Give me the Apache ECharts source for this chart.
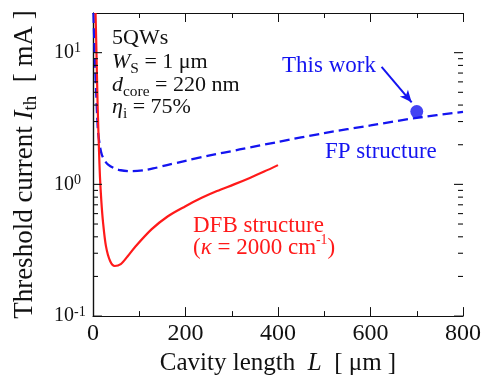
<!DOCTYPE html>
<html>
<head>
<meta charset="utf-8">
<script src="https://cdn.jsdelivr.net/npm/echarts@6/dist/echarts.min.js"></script>
<style>
  html, body { margin: 0; padding: 0; background: #fff; }
  #chart { width: 487px; height: 381px; }
</style>
</head>
<body>
<div id="chart"></div>
<script>
// FP structure (blue dashed): [cavity length um, threshold mA]
const fpCurve = [
  [1, 20], [2, 15], [3, 12], [4.5, 8], [6.5, 5.4], [9, 3.3], [11, 2.5],
  [15, 1.95], [19, 1.68], [25, 1.52], [32, 1.42], [45, 1.33], [60, 1.28],
  [84, 1.26], [110, 1.28], [130, 1.32], [160, 1.40], [200, 1.51],
  [250, 1.65], [317, 1.84], [400, 2.1], [500, 2.45], [600, 2.8],
  [700, 3.2], [800, 3.55]
];
// DFB structure (red solid)
const dfbCurve = [
  [5.5, 20], [7, 12], [10, 4.0], [13, 1.8], [15, 1.15], [18, 0.75],
  [21.6, 0.52], [28, 0.34], [37, 0.262], [47, 0.24], [60, 0.248],
  [75, 0.285], [91, 0.335], [127, 0.457], [162, 0.573], [199, 0.68],
  [235, 0.79], [268, 0.89], [305, 1.0], [339, 1.12], [370, 1.25], [400, 1.4]
];
// "This work" point and arrow
const thisWork = [[700, 3.57]];
const arrowFrom = [624, 7.8];
const arrowTo = [689, 4.2];

const xTicks = [0, 200, 400, 600, 800];
const yDecades = [0.1, 1, 10];
const minorMult = [2, 3, 4, 5, 6, 7, 8, 9];

// frame ticks on the log axis: [x at frame edge, value, direction, length]
const yFrameTicks = [];
yDecades.forEach(d => {
  yFrameTicks.push([0, d, 1, 9]);
  yFrameTicks.push([800, d, -1, 9]);
  minorMult.forEach(m => {
    if (d * m < 20) {
      yFrameTicks.push([0, d * m, 1, 5]);
      yFrameTicks.push([800, d * m, -1, 5]);
    }
  });
});

const serif = 'Liberation Serif, Times New Roman, serif';
const ink = '#111';
const red = '#ff1a1a';
const blue = '#1414f0';

const chart = echarts.init(document.getElementById('chart'));

const supFmt = v => {
  const e = Math.round(Math.log10(v));
  if (Math.abs(Math.log10(v) - e) > 1e-6) return '';
  return '{b|10}{s|' + e + '}';
};

const subRich = (size, color) => ({
  i: { fontStyle: 'italic', fontSize: size, fontFamily: serif, color: color, lineHeight: size + 6 },
  sub: { fontSize: size * 0.7, fontFamily: serif, color: color, verticalAlign: 'bottom', lineHeight: size * 0.7 },
  sup: { fontSize: size * 0.6, fontFamily: serif, color: color, verticalAlign: 'top', lineHeight: size * 0.6 },
  n: { fontSize: size, fontFamily: serif, color: color, lineHeight: size + 6 }
});

const textEl = (x, y, text, size, color) => ({
  type: 'text', x: x, y: y,
  style: {
    text: text, fill: color, fontSize: size, fontFamily: serif,
    verticalAlign: 'middle', rich: subRich(size, color)
  }
});

const frame = extra => Object.assign({
  axisLine: { show: true, lineStyle: { color: ink, width: 1.2 } },
  axisTick: { show: true, inside: true, length: 9, lineStyle: { color: ink, width: 1 } },
  splitLine: { show: false }
}, extra);

chart.setOption({
  animation: false,
  grid: { left: 93, right: 24, top: 13, bottom: 64 },
  xAxis: [
    frame({
      type: 'value', min: 0, max: 800, interval: 200,
      name: 'Cavity length  {i|L}  [ μm ]',
      nameLocation: 'middle', nameGap: 31,
      nameTextStyle: { fontSize: 25, fontFamily: serif, color: ink, rich: subRich(25, ink) },
      minorTick: { show: true, splitNumber: 2, length: 5, lineStyle: { color: ink } },
      axisLabel: { fontSize: 24, fontFamily: serif, color: ink, margin: 6,
        formatter: v => xTicks.includes(v) ? String(v) : '' }
    }),
    frame({
      type: 'value', min: 0, max: 800, interval: 200, position: 'top',
      minorTick: { show: true, splitNumber: 2, length: 5, lineStyle: { color: ink } },
      axisLabel: { show: false }
    })
  ],
  yAxis: [
    frame({
      type: 'log', logBase: 10, min: 0.1, max: 20,
      axisTick: { show: false },
      name: 'Threshold current {i|I}{sub|th}  [ mA ]',
      nameLocation: 'middle', nameGap: 52, nameRotate: 90,
      nameTextStyle: { fontSize: 27, fontFamily: serif, color: ink, rich: subRich(27, ink) },
      axisLabel: {
        showMaxLabel: false, margin: 39, align: 'left', formatter: supFmt,
        rich: {
          b: { fontSize: 20, fontFamily: serif, color: ink, lineHeight: 22 },
          s: { fontSize: 14, fontFamily: serif, color: ink, verticalAlign: 'top', lineHeight: 14 }
        }
      }
    }),
    frame({
      type: 'log', logBase: 10, min: 0.1, max: 20, position: 'right',
      axisTick: { show: false },
      axisLabel: { show: false }
    })
  ],
  series: [
    {
      name: 'FP structure', type: 'line', data: fpCurve, smooth: 0.3,
      showSymbol: false, clip: true,
      lineStyle: { color: blue, width: 2.3, type: [10, 5] }
    },
    {
      name: 'DFB structure', type: 'line', data: dfbCurve, smooth: 0.3,
      showSymbol: false, clip: true,
      lineStyle: { color: red, width: 2.2 }
    },
    {
      name: 'This work', type: 'scatter', data: thisWork,
      symbolSize: 13, itemStyle: { color: blue },
      markLine: {
        silent: true, symbol: ['none', 'arrow'], symbolSize: [8, 12],
        label: { show: false },
        lineStyle: { color: blue, width: 2, type: 'solid' },
        data: [[{ coord: arrowFrom }, { coord: arrowTo }]]
      }
    },
    {
      // decade and minor ticks on the left and right frame, on their own layer
      type: 'custom', xAxisIndex: 0, yAxisIndex: 0, silent: true, clip: false,
      zlevel: 1, z: 100,
      data: yFrameTicks,
      renderItem: (params, api) => {
        const p = api.coord([api.value(0), api.value(1)]);
        const dir = api.value(2);
        const len = api.value(3);
        return {
          type: 'line',
          shape: { x1: p[0], y1: p[1], x2: p[0] + dir * len, y2: p[1] },
          style: { stroke: ink, lineWidth: 1.1 }
        };
      }
    }
  ],
  graphic: [
    textEl(112, 38, '{n|5QWs}', 22, ink),
    textEl(112, 62, '{i|W}{sub|S}{n| = 1 μm}', 22, ink),
    textEl(112, 85, '{i|d}{sub|core}{n| = 220 nm}', 22, ink),
    textEl(112, 107, '{i|η}{sub|i}{n| = 75%}', 22, ink),
    textEl(282, 66, '{n|This work}', 23, blue),
    textEl(325, 152, '{n|FP structure}', 23, blue),
    textEl(193, 226, '{n|DFB structure}', 23, red),
    textEl(193, 248, '{n|(}{i|κ}{n| = 2000 cm}{sup|-1}{n|)}', 23, red)
  ]
});
</script>
</body>
</html>
